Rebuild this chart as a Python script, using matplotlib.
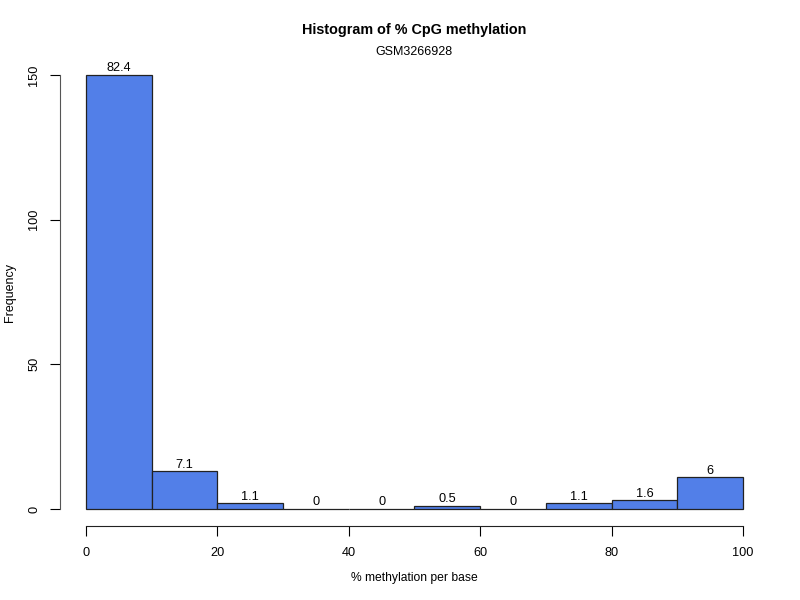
import matplotlib
matplotlib.use("Agg")
import matplotlib.pyplot as plt
import numpy as np

bin_edges = [0, 10, 20, 30, 40, 50, 60, 70, 80, 90, 100]
counts = [150, 13, 2, 0, 0, 1, 0, 2, 3, 11]
pct_labels = ["82.4", "7.1", "1.1", "0", "0", "0.5", "0", "1.1", "1.6", "6"]
x_ticks = [0, 20, 40, 60, 80, 100]
y_ticks = [0, 50, 100, 150]

plt.rcParams['font.family'] = ['Liberation Sans', 'DejaVu Sans']

fig = plt.figure(figsize=(8, 6), dpi=100)
W, H = 800, 600
left, right = 59.7, 769.3
top, bottom = 57.6, 526.4
ax = fig.add_axes([left / W, 1 - bottom / H, (right - left) / W, (bottom - top) / H])
ax.set_xlim(-4, 104)
ax.set_ylim(-6, 156)

edges = np.array(bin_edges)
widths = np.diff(edges)
ax.bar(edges[:-1], counts, width=widths, align='edge', color='#527FE8',
       edgecolor='#222222', linewidth=0.9)
for x0, w, c, lab in zip(edges[:-1], widths, counts, pct_labels):
    ax.annotate(lab, (x0 + w / 2, c), xytext=(0, 0.5), textcoords='offset points',
                ha='center', va='bottom', fontsize=9.2)

for s in ['top', 'right']:
    ax.spines[s].set_visible(False)
ax.spines['left'].set_bounds(0, 150)
ax.spines['bottom'].set_bounds(0, 100)
ax.spines['left'].set_color('#555555')
ax.spines['bottom'].set_color('#222222')
ax.set_xticks(x_ticks)
ax.set_yticks(y_ticks)
ax.set_yticklabels([str(v) for v in y_ticks], rotation=90, va='center')
ax.tick_params(axis='both', length=7, labelsize=9.2, pad=6)
ax.tick_params(axis='x', pad=8)
ax.tick_params(axis='y', pad=7)

fig.text(414 / W, 1 - 30 / H, "Histogram of % CpG methylation", ha='center', va='center',
         fontsize=10.4, fontweight='bold')
fig.text(414 / W, 1 - 52 / H, "GSM3266928", ha='center', va='center', fontsize=9)
fig.text(414 / W, 1 - 578 / H, "% methylation per base", ha='center', va='center', fontsize=8.7)
fig.text(10 / W, 1 - 292 / H, "Frequency", ha='center', va='center', fontsize=9, rotation=90)

fig.savefig("out.png", dpi=100)
